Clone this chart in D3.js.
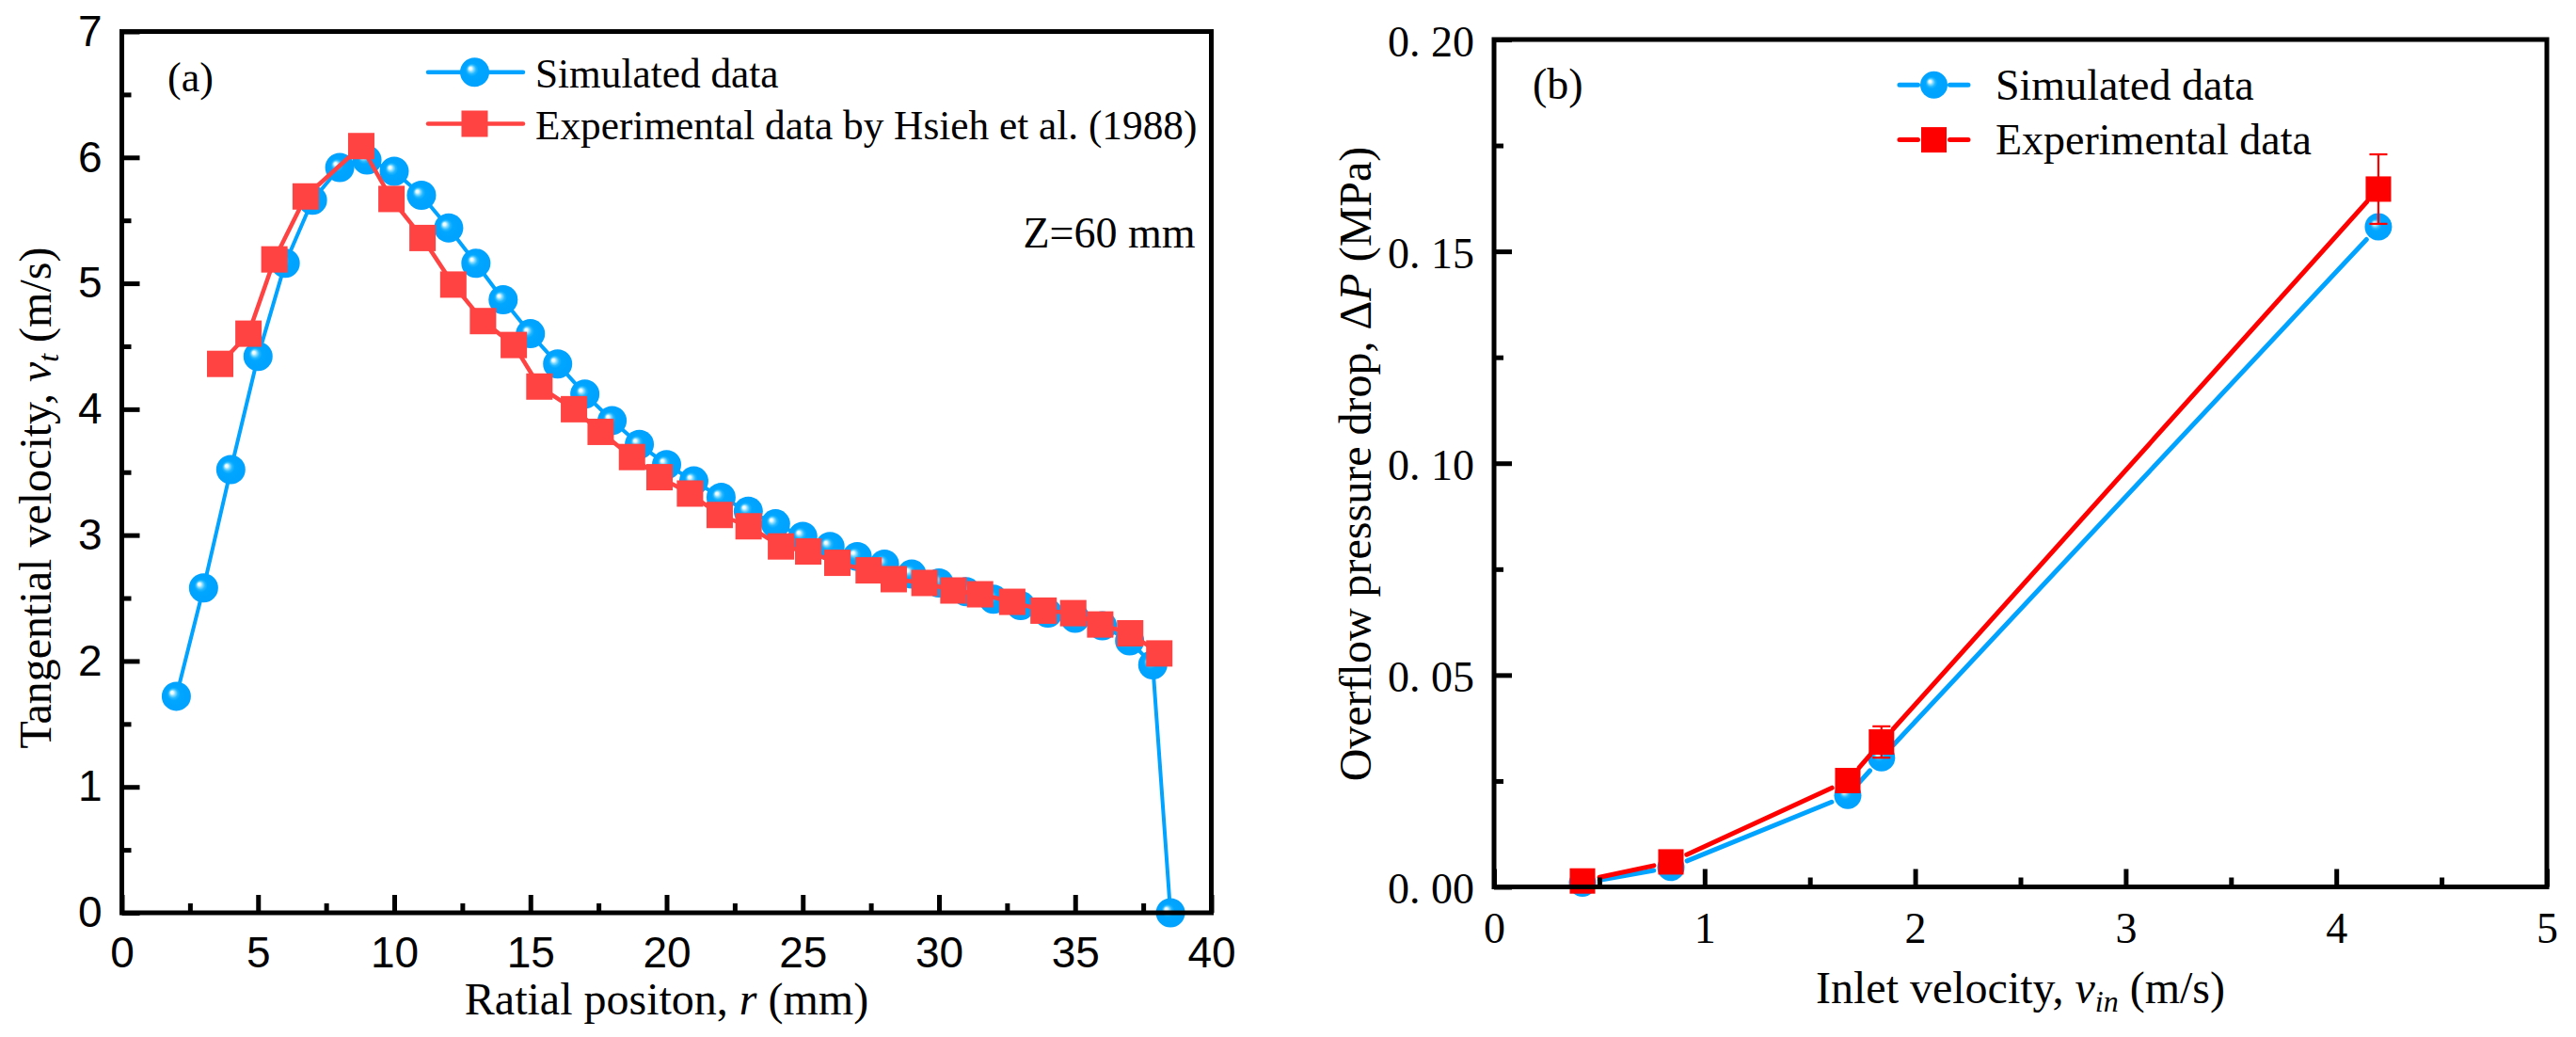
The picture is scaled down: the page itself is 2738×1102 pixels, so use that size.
<!DOCTYPE html>
<html>
<head>
<meta charset="utf-8">
<script src="https://cdn.jsdelivr.net/npm/d3@7"></script>
<style>
body { margin: 0; background: #fff; }
svg { display: block; }
</style>
</head>
<body>
<div id="svgcontainer"></div>
<script>
// panel (a): tangential velocity vs radial position
let simR = [2, 3, 4, 5, 6, 7, 8, 9, 10, 11, 12, 13, 14, 15, 16, 17, 18, 19, 20, 21, 22, 23, 24, 25, 26, 27, 28, 29, 30, 31, 32, 33, 34, 35, 36, 37, 37.85, 38.5];
let simV = [1.72, 2.58, 3.52, 4.42, 5.16, 5.66, 5.92, 5.98, 5.89, 5.70, 5.44, 5.16, 4.87, 4.60, 4.36, 4.12, 3.91, 3.72, 3.56, 3.43, 3.30, 3.19, 3.09, 2.99, 2.91, 2.83, 2.77, 2.69, 2.62, 2.55, 2.49, 2.44, 2.38, 2.34, 2.28, 2.16, 1.97, 0];
let expR = [3.61, 4.65, 5.60, 6.75, 8.79, 9.90, 11.04, 12.17, 13.26, 14.39, 15.33, 16.60, 17.58, 18.73, 19.74, 20.86, 21.95, 23.01, 24.20, 25.20, 26.27, 27.42, 28.34, 29.47, 30.53, 31.51, 32.69, 33.84, 34.93, 35.92, 37.02, 38.09];
let expV = [4.36, 4.60, 5.19, 5.69, 6.09, 5.67, 5.36, 4.99, 4.70, 4.51, 4.18, 4.00, 3.82, 3.62, 3.46, 3.33, 3.16, 3.07, 2.91, 2.87, 2.78, 2.72, 2.65, 2.62, 2.56, 2.53, 2.47, 2.40, 2.38, 2.29, 2.22, 2.06];
let aXTicks = [0, 5, 10, 15, 20, 25, 30, 35, 40];
let aXMinor = [2.5, 7.5, 12.5, 17.5, 22.5, 27.5, 32.5, 37.5];
let aYTicks = [0, 1, 2, 3, 4, 5, 6, 7];
let aYMinor = [0.5, 1.5, 2.5, 3.5, 4.5, 5.5, 6.5];

// panel (b): overflow pressure drop vs inlet velocity
let inletV = [0.42, 0.84, 1.68, 1.84, 4.20];
let simP = [0.0009, 0.0046, 0.0216, 0.0305, 0.1558];
let expP = [0.0014, 0.0059, 0.0251, 0.0342, 0.1647];
let expErr = [0.0005, 0.0008, 0.0015, 0.0037, 0.0082];
let bXTicks = [0, 1, 2, 3, 4, 5];
let bXMinor = [0.5, 1.5, 2.5, 3.5, 4.5];
let bYTicks = [0, 0.05, 0.10, 0.15, 0.20];
let bYMinor = [0.025, 0.075, 0.125, 0.175];

let width = 2738;
let height = 1102;
let serif = '"Liberation Serif", "Times New Roman", serif';
let sans = '"Liberation Sans", Arial, sans-serif';
let blue = '#00a3ff';
let redA = '#ff4242';
let redB = '#ff0000';

let svg = d3.select('#svgcontainer')
    .append('svg')
    .attr('width', width)
    .attr('height', height);
svg.append('rect').attr('width', width).attr('height', height).attr('fill', '#fff');

let grad = svg.append('defs').append('radialGradient')
    .attr('id', 'ball')
    .attr('cx', '50%').attr('cy', '50%').attr('r', '50%')
    .attr('fx', '34%').attr('fy', '36%');
[[0, '#ffffff'], [0.10, '#e6f9ff'], [0.20, '#7fd9ff'], [0.32, '#22b6ff'], [0.45, '#00a6ff'], [1, '#00a2ff']]
    .forEach(s => grad.append('stop').attr('offset', s[0]).attr('stop-color', s[1]));

function axes(g, x, y, o) {
    let x0 = x.range()[0], x1 = x.range()[1];
    let y0 = y.range()[0], y1 = y.range()[1];
    g.append('g').attr('transform', 'translate(0,' + y0 + ')')
        .call(d3.axisBottom(x).tickValues(o.xMinor).tickSize(-10).tickFormat(''));
    let xa = g.append('g').attr('transform', 'translate(0,' + y0 + ')')
        .call(d3.axisBottom(x).tickValues(o.xTicks).tickSize(-19).tickPadding(o.xPad).tickFormat(o.xFormat));
    g.append('g').attr('transform', 'translate(' + x0 + ',0)')
        .call(d3.axisLeft(y).tickValues(o.yMinor).tickSize(-10).tickFormat(''));
    let ya = g.append('g').attr('transform', 'translate(' + x0 + ',0)')
        .call(d3.axisLeft(y).tickValues(o.yTicks).tickSize(-19).tickPadding(21).tickFormat(o.yFormat));
    g.selectAll('.domain').remove();
    g.selectAll('.tick line').attr('stroke', '#000').attr('stroke-width', 5);
    [xa, ya].forEach(a => a.attr('font-size', 46).attr('font-family', o.font));
    ya.selectAll('text').attr('dy', o.yDy);
    g.append('rect')
        .attr('x', x0).attr('y', y1)
        .attr('width', x1 - x0).attr('height', y0 - y1)
        .attr('fill', 'none').attr('stroke', '#000').attr('stroke-width', 5);
    return ya;
}

function balls(g, pts, r) {
    g.selectAll(null).data(pts).enter().append('circle')
        .attr('cx', d => d[0]).attr('cy', d => d[1]).attr('r', r)
        .attr('fill', 'url(#ball)');
}

function squares(g, pts, s, color) {
    g.selectAll(null).data(pts).enter().append('rect')
        .attr('x', d => d[0] - s / 2).attr('y', d => d[1] - s / 2)
        .attr('width', s).attr('height', s)
        .attr('fill', color);
}

// polyline broken around each marker, as Origin draws it
function gapPath(pts, gap) {
    let d = '';
    for (let i = 1; i < pts.length; i++) {
        let a = pts[i - 1], b = pts[i];
        let dx = b[0] - a[0], dy = b[1] - a[1];
        let len = Math.sqrt(dx * dx + dy * dy);
        if (len <= 2 * gap) continue;
        let ux = dx / len, uy = dy / len;
        d += 'M' + (a[0] + ux * gap) + ',' + (a[1] + uy * gap) + 'L' + (b[0] - ux * gap) + ',' + (b[1] - uy * gap);
    }
    return d;
}

// ---------- panel (a) ----------
let xA = d3.scaleLinear().domain([0, 40]).range([129.5, 1287.5]);
let yA = d3.scaleLinear().domain([0, 7]).range([970, 33.5]);
let gA = svg.append('g').attr('class', 'panel-a');

let simPtsA = d3.zip(simR, simV).map(d => [xA(d[0]), yA(d[1])]);
let expPtsA = d3.zip(expR, expV).map(d => [xA(d[0]), yA(d[1])]);
let line = d3.line();

gA.append('path').attr('d', line(simPtsA)).attr('fill', 'none')
    .attr('stroke', blue).attr('stroke-width', 4).attr('stroke-linejoin', 'round');
balls(gA.append('g'), simPtsA, 15.5);
gA.append('path').attr('d', line(expPtsA)).attr('fill', 'none')
    .attr('stroke', redA).attr('stroke-width', 4.5).attr('stroke-linejoin', 'round');
squares(gA.append('g'), expPtsA, 28, redA);

axes(gA, xA, yA, {
    xTicks: aXTicks, xMinor: aXMinor, yTicks: aYTicks, yMinor: aYMinor,
    xPad: 25, xFormat: d3.format('d'), yFormat: d3.format('d'), font: sans, yDy: '0.32em'
});

// legend (a)
let legA = gA.append('g').attr('class', 'legend');
legA.append('line').attr('x1', 455).attr('x2', 556).attr('y1', 76.7).attr('y2', 76.7)
    .attr('stroke', blue).attr('stroke-width', 4.5).attr('stroke-linecap', 'round');
balls(legA, [[504.5, 76.7]], 15.5);
legA.append('line').attr('x1', 455).attr('x2', 556).attr('y1', 131.5).attr('y2', 131.5)
    .attr('stroke', redA).attr('stroke-width', 4.5).attr('stroke-linecap', 'round');
squares(legA, [[504.5, 131.5]], 28, redA);
legA.append('text').attr('x', 569).attr('y', 93).text('Simulated data');
legA.append('text').attr('x', 569).attr('y', 148).text('Experimental data by Hsieh et al. (1988)');
legA.selectAll('text').attr('font-family', serif).attr('font-size', 43.3);

gA.append('text').attr('x', 178).attr('y', 96.5)
    .attr('font-family', serif).attr('font-size', 44).text('(a)');
gA.append('text').attr('x', 1270.5).attr('y', 263).attr('text-anchor', 'end')
    .attr('font-family', serif).attr('font-size', 46).text('Z=60 mm');

let xtA = gA.append('text').attr('x', 708.5).attr('y', 1078).attr('text-anchor', 'middle')
    .attr('font-family', serif).attr('font-size', 48);
xtA.append('tspan').text('Ratial positon, ');
xtA.append('tspan').attr('font-style', 'italic').text('r');
xtA.append('tspan').text(' (mm)');

let ytA = gA.append('text').attr('transform', 'translate(54,529) rotate(-90)')
    .attr('text-anchor', 'middle').attr('font-family', serif).attr('font-size', 48);
ytA.append('tspan').text('Tangential velocity, ');
ytA.append('tspan').attr('font-style', 'italic').text('v');
ytA.append('tspan').attr('font-style', 'italic').attr('font-size', 32).attr('dy', 8).text('t');
ytA.append('tspan').attr('dy', -8).text(' (m/s)');

// ---------- panel (b) ----------
let xB = d3.scaleLinear().domain([0, 5]).range([1588, 2707]);
let yB = d3.scaleLinear().domain([0, 0.2]).range([942.5, 42]);
let gB = svg.append('g').attr('class', 'panel-b');

let simPtsB = d3.zip(inletV, simP).map(d => [xB(d[0]), yB(d[1])]);
let expPtsB = d3.zip(inletV, expP).map(d => [xB(d[0]), yB(d[1])]);

gB.append('path').attr('d', gapPath(simPtsB, 18.5)).attr('fill', 'none')
    .attr('stroke', blue).attr('stroke-width', 5).attr('stroke-linecap', 'round');
balls(gB.append('g'), simPtsB, 14.5);
gB.append('path').attr('d', gapPath(expPtsB, 18.5)).attr('fill', 'none')
    .attr('stroke', redB).attr('stroke-width', 5).attr('stroke-linecap', 'round');
squares(gB.append('g'), expPtsB, 27, redB);

let errB = gB.append('g').attr('stroke', redB).attr('stroke-width', 2.2);
d3.range(inletV.length).forEach(i => {
    let cx = xB(inletV[i]);
    let top = yB(expP[i] + expErr[i]);
    let bot = yB(Math.max(0, expP[i] - expErr[i]));
    errB.append('line').attr('x1', cx).attr('x2', cx).attr('y1', top).attr('y2', bot);
    errB.append('line').attr('x1', cx - 9.5).attr('x2', cx + 9.5).attr('y1', top).attr('y2', top);
    errB.append('line').attr('x1', cx - 9.5).attr('x2', cx + 9.5).attr('y1', bot).attr('y2', bot);
});

let yaxB = axes(gB, xB, yB, {
    xTicks: bXTicks, xMinor: bXMinor, yTicks: bYTicks, yMinor: bYMinor,
    xPad: 27, xFormat: d3.format('d'), yFormat: d3.format('.2f'), font: serif, yDy: '0.38em'
});
// the source font prints "0.20" with a wide gap after the point
yaxB.selectAll('.tick text').each(function (d) {
    let t = d3.select(this);
    let s = d.toFixed(2);
    t.text(null);
    t.append('tspan').text(s.slice(0, 2));
    t.append('tspan').attr('dx', '0.25em').text(s.slice(2));
});

// legend (b)
let legB = gB.append('g').attr('class', 'legend');
legB.append('path').attr('d', gapPath([[2002, 90.3], [2055.5, 90.3], [2109, 90.3]], 17))
    .attr('stroke', blue).attr('stroke-width', 5).attr('stroke-linecap', 'round');
balls(legB, [[2055.5, 90.3]], 14.5);
legB.append('path').attr('d', gapPath([[2002, 148.6], [2055.5, 148.6], [2109, 148.6]], 17))
    .attr('stroke', redB).attr('stroke-width', 5).attr('stroke-linecap', 'round');
squares(legB, [[2055.5, 148.6]], 27, redB);
legB.append('text').attr('x', 2121).attr('y', 106).text('Simulated data');
legB.append('text').attr('x', 2121).attr('y', 164).text('Experimental data');
legB.selectAll('text').attr('font-family', serif).attr('font-size', 46);

gB.append('text').attr('x', 1629).attr('y', 105)
    .attr('font-family', serif).attr('font-size', 46).text('(b)');

let xtB = gB.append('text').attr('x', 2147.5).attr('y', 1066).attr('text-anchor', 'middle')
    .attr('font-family', serif).attr('font-size', 48);
xtB.append('tspan').text('Inlet velocity, ');
xtB.append('tspan').attr('font-style', 'italic').text('v');
xtB.append('tspan').attr('font-style', 'italic').attr('font-size', 32).attr('dy', 9).text('in');
xtB.append('tspan').attr('dy', -9).text(' (m/s)');

let ytB = gB.append('text').attr('transform', 'translate(1457,493) rotate(-90)')
    .attr('text-anchor', 'middle').attr('font-family', serif).attr('font-size', 48);
ytB.append('tspan').text('Overflow pressure drop, \u0394');
ytB.append('tspan').attr('font-style', 'italic').text('P');
ytB.append('tspan').text(' (MPa)');
</script>
</body>
</html>
